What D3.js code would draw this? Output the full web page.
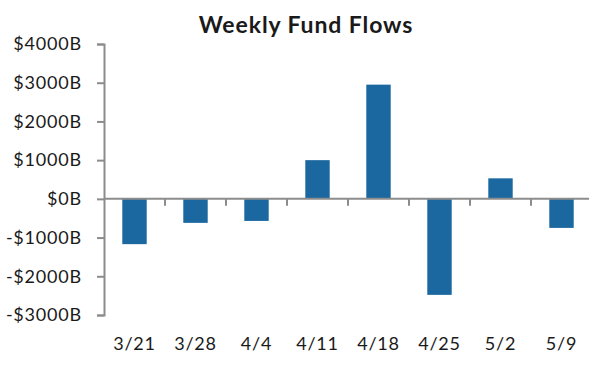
<!DOCTYPE html>
<html>
<head>
<meta charset="utf-8">
<script src="https://cdn.jsdelivr.net/npm/d3@7/dist/d3.min.js"></script>
<style>
  body { margin: 0; background: #fff; }
  text { font-family: Lato, "Open Sans", sans-serif; fill: #1a1a1a; }
</style>
</head>
<body>
<div id="chart"></div>
<script>
var weeks = ["3/21", "3/28", "4/4", "4/11", "4/18", "4/25", "5/2", "5/9"];
var flows = [-1170, -620, -570, 1000, 2950, -2480, 530, -750];
var yTicks = [4000, 3000, 2000, 1000, 0, -1000, -2000, -3000];

var width = 589, height = 375;
var margin = { top: 44, left: 104 };

var svg = d3.select("#chart")
    .append("svg")
    .attr("width", width)
    .attr("height", height);

var x = d3.scaleBand()
    .domain(weeks)
    .range([margin.left, margin.left + 8 * 61])
    .paddingInner(0.6)
    .paddingOuter(0.3);

var y = d3.scaleLinear()
    .domain([-3000, 4000])
    .range([315, 44]);

var data = weeks.map(function(w, i) { return { week: w, value: flows[i] }; });

// bars
svg.selectAll(".bar")
    .data(data)
    .enter().append("rect")
    .attr("class", "bar")
    .attr("x", function(d) { return x(d.week); })
    .attr("width", x.bandwidth())
    .attr("y", function(d) { return y(Math.max(0, d.value)); })
    .attr("height", function(d) { return Math.abs(y(d.value) - y(0)); })
    .style("fill", "#1b67a0");

// y axis
var yAxis = svg.append("g")
    .attr("transform", "translate(" + margin.left + ",0)")
    .call(d3.axisLeft(y).tickValues(yTicks).tickSize(7).tickPadding(15)
        .tickFormat(function(d) { return (d < 0 ? "-$" : "$") + Math.abs(d) + "B"; }));
yAxis.select(".domain").attr("stroke", "#8c8c8c").attr("stroke-width", 2);
yAxis.selectAll(".tick line").attr("stroke", "#8c8c8c").attr("stroke-width", 2);
yAxis.selectAll(".tick text")
    .style("font-size", "18px")
    .style("letter-spacing", "0.8px")
    .style("font-family", "Lato, 'Open Sans', sans-serif")
    .attr("fill", "#1a1a1a");

// zero line with ticks between categories
var step = x.step();
var sepTicks = weeks.slice(1).map(function(w) { return x(w) - (step - x.bandwidth()) / 2; });

svg.append("line")
    .attr("x1", margin.left)
    .attr("x2", width)
    .attr("y1", y(0))
    .attr("y2", y(0))
    .attr("stroke", "#8c8c8c")
    .attr("stroke-width", 2);

svg.selectAll(".sep")
    .data(sepTicks)
    .enter().append("line")
    .attr("class", "sep")
    .attr("x1", function(d) { return d; })
    .attr("x2", function(d) { return d; })
    .attr("y1", y(0))
    .attr("y2", y(0) + 7)
    .attr("stroke", "#8c8c8c")
    .attr("stroke-width", 2);

// category labels
svg.selectAll(".xlabel")
    .data(weeks)
    .enter().append("text")
    .attr("class", "xlabel")
    .attr("x", function(d) { return x(d) + x.bandwidth() / 2; })
    .attr("y", 350)
    .attr("text-anchor", "middle")
    .style("font-size", "18px")
    .style("letter-spacing", "0.8px")
    .text(function(d) { return d; });

// title
svg.append("text")
    .attr("x", 306)
    .attr("y", 33)
    .attr("text-anchor", "middle")
    .style("font-size", "23px")
    .style("font-weight", "bold")
    .style("letter-spacing", "0.9px")
    .text("Weekly Fund Flows");
</script>
</body>
</html>
